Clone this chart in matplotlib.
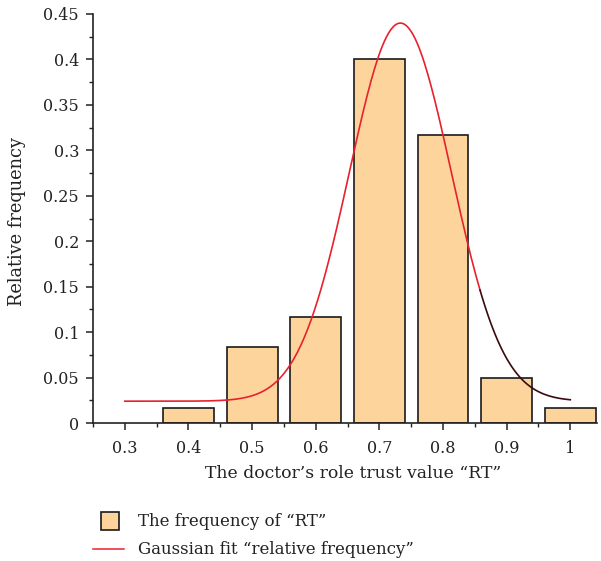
import numpy as np
import matplotlib
matplotlib.use("Agg")
import matplotlib.pyplot as plt
from matplotlib.ticker import MultipleLocator, FuncFormatter
from matplotlib.patches import Rectangle
from matplotlib.lines import Line2D

# Data
rt_values = [0.4, 0.5, 0.6, 0.7, 0.8, 0.9, 1.0]
rel_freq = [0.0167, 0.0833, 0.1167, 0.4000, 0.3167, 0.0500, 0.0167]

# Gaussian fit parameters (y0 + A*exp(-(x-xc)^2/(2w^2)))
fit_y0 = 0.024
fit_A = 0.416
fit_xc = 0.733
fit_w = 0.080
fit_range = (0.3, 1.0)

x_ticks = [0.3, 0.4, 0.5, 0.6, 0.7, 0.8, 0.9, 1.0]
y_ticks = [0, 0.05, 0.1, 0.15, 0.2, 0.25, 0.3, 0.35, 0.4, 0.45]

plt.rcParams['font.family'] = ['DejaVu Serif']
TXT = '#222222'

W, H = 601, 561
fig = plt.figure(figsize=(W / 100, H / 100), dpi=100)
ax = fig.add_axes([93 / W, 1 - 423 / H, (597 - 93) / W, (423 - 14) / H])

ax.bar(rt_values, rel_freq, width=0.08, color='#FDD59C', edgecolor='#1a1a1a', linewidth=1.2, zorder=2)

xs = np.linspace(fit_range[0], fit_range[1], 401)
ys = fit_y0 + fit_A * np.exp(-(xs - fit_xc) ** 2 / (2 * fit_w ** 2))
split = 0.857
k = int(np.searchsorted(xs, split))
ax.plot(xs[:k + 1], ys[:k + 1], color='#E8212E', linewidth=1.2, zorder=3)
ax.plot(xs[k:], ys[k:], color='#3a0a0e', linewidth=1.2, zorder=3)

ax.set_xlim(0.25, 1.042)
ax.set_ylim(0, 0.45)
ax.set_xticks(x_ticks)
ax.set_yticks(y_ticks)
ax.xaxis.set_minor_locator(MultipleLocator(0.05))
ax.yaxis.set_minor_locator(MultipleLocator(0.025))

def fmt(v, pos):
    return ('%.2f' % v).rstrip('0').rstrip('.')
ax.xaxis.set_major_formatter(FuncFormatter(fmt))
ax.yaxis.set_major_formatter(FuncFormatter(fmt))

for s in ['top', 'right']:
    ax.spines[s].set_visible(False)
for s in ['left', 'bottom']:
    ax.spines[s].set_linewidth(1.2)
    ax.spines[s].set_color('#222222')

ax.tick_params(which='major', direction='out', length=5, width=1.1, colors='#222222',
               labelcolor=TXT, labelsize=11.5)
ax.tick_params(axis='y', which='major', pad=5)
ax.tick_params(axis='x', which='major', pad=7)
ax.tick_params(which='minor', direction='out', length=3, width=1.0, colors='#222222')

ax.set_xlabel('The doctor\u2019s role trust value \u201cRT\u201d', fontsize=12.4, color=TXT)
ax.xaxis.set_label_coords((353 - 93) / (597 - 93), -(474 - 423) / (423 - 14))
ax.xaxis.label.set_va('center')
ax.set_ylabel('Relative frequency', fontsize=12.8, color=TXT)
ax.yaxis.set_label_coords(-(93 - 17) / (597 - 93), (423 - 222) / (423 - 14))
ax.yaxis.label.set_va('center')

# Legend (manual, figure pixel coordinates)
fig.patches.append(Rectangle((101 / W, 1 - 530 / H), 18 / W, 18 / H, transform=fig.transFigure,
                             facecolor='#FDD59C', edgecolor='#1a1a1a', linewidth=1.2))
fig.lines.append(Line2D([93 / W, 124 / W], [1 - 549 / H, 1 - 549 / H], transform=fig.transFigure,
                        color='#E8212E', linewidth=1.1))
fig.text(138 / W, 1 - 521 / H, 'The frequency of \u201cRT\u201d', fontsize=12, va='center', color=TXT)
fig.text(138 / W, 1 - 549 / H, 'Gaussian fit \u201crelative frequency\u201d', fontsize=12, va='center', color=TXT)

fig.savefig('out.png', dpi=100)
